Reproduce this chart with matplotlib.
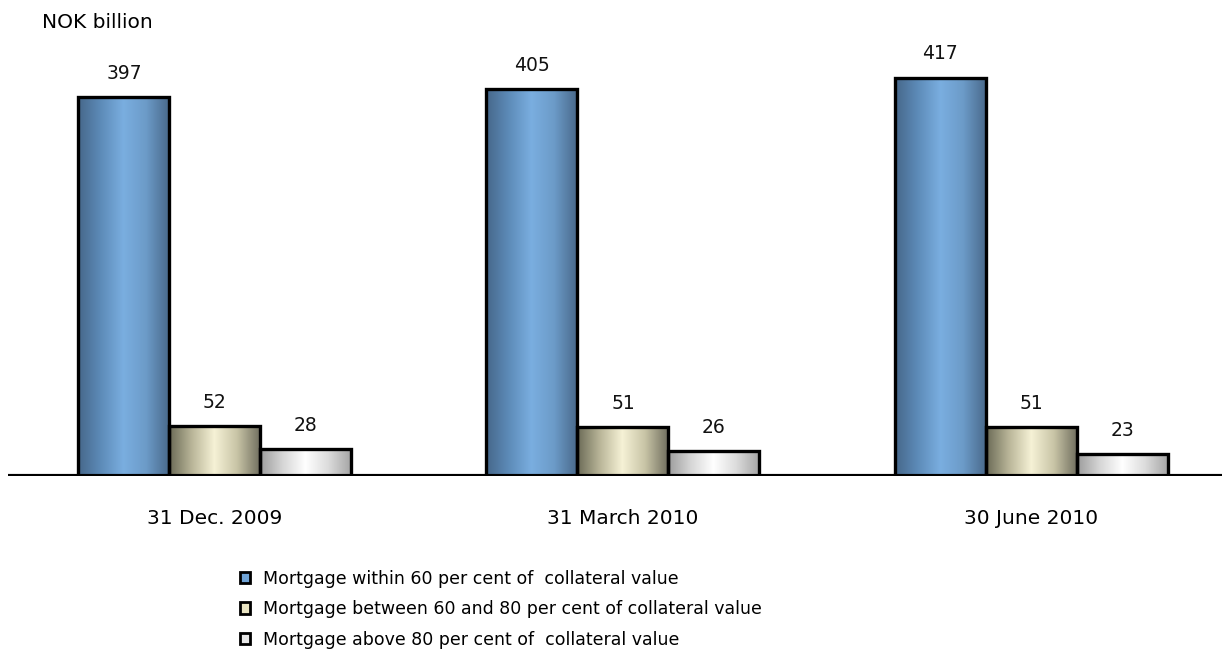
""" Mortgage loans by loan-to-value, NOK billion """

import numpy as np
import matplotlib
matplotlib.use('Agg')
import matplotlib.pyplot as plt
from matplotlib.colors import LinearSegmentedColormap
from matplotlib.patches import Patch

plt.rcParams['font.family'] = ['DejaVu Sans']

dates = ['31 Dec. 2009', '31 March 2010', '30 June 2010']
within_60 = [397, 405, 417]
between_60_80 = [52, 51, 51]
above_80 = [28, 26, 23]

series_names = [
    'Mortgage within 60 per cent of  collateral value',
    'Mortgage between 60 and 80 per cent of collateral value',
    'Mortgage above 80 per cent of  collateral value',
]

# edge / mid / edge colours for the shaded bars
shades = [
    ['#46678a', '#5d8bb8', '#7aaee0', '#6c9bc8', '#4a6a8c'],
    ['#6a6a56', '#b9b598', '#f6f2d6', '#c8c4a6', '#727060'],
    ['#9c9c9c', '#d6d6d6', '#ffffff', '#dcdcdc', '#a6a6a6'],
]
legend_colors = ['#6fa3d6', '#e9e4c2', '#e8e8e8']

fig = plt.figure(figsize=(12.22, 6.54), dpi=100)
W, H = 1222, 654
ax = fig.add_axes([8 / W, (H - 476) / H, (W - 8) / W, (476 - 20) / H])

x = np.arange(len(dates))
width = 0.223
offsets = [-width, 0, width]
grad = np.linspace(0, 1, 256).reshape(1, -1)

for vals, off, cols in zip([within_60, between_60_80, above_80], offsets, shades):
    cmap = LinearSegmentedColormap.from_list('g', cols)
    for xi, v in zip(x, vals):
        x0 = xi + off - width / 2
        ax.imshow(grad, extent=[x0, x0 + width, 0, v], aspect='auto',
                  cmap=cmap, zorder=2)
    ax.bar(x + off, vals, width, fill=False, edgecolor='black',
           linewidth=2.4, zorder=3)
    for xi, v in zip(x, vals):
        ax.text(xi + off, v + 25, str(v), ha='center', va='center',
                fontsize=13.5, color='#111111')

ax.axhline(0, color='black', linewidth=3, zorder=4)
ax.set_xlim(-0.507, 2.468)
ax.set_ylim(0, 477.5)
ax.axis('off')

for xi, d in zip(x, dates):
    ax.text(xi, -45, d, ha='center', va='center', fontsize=14.5)

fig.text(42 / W, 1 - 22 / H, 'NOK billion', ha='left', va='center', fontsize=14.5)

handles = [Patch(facecolor=c, edgecolor='black', linewidth=2) for c in legend_colors]
fig.legend(handles, series_names, loc='upper left',
           bbox_to_anchor=(224 / W, 1 - 554 / H), frameon=False,
           handlelength=0.6, handleheight=0.6, handletextpad=0.75,
           labelspacing=0.72, fontsize=12.5)

fig.savefig('out.png', dpi=100)
